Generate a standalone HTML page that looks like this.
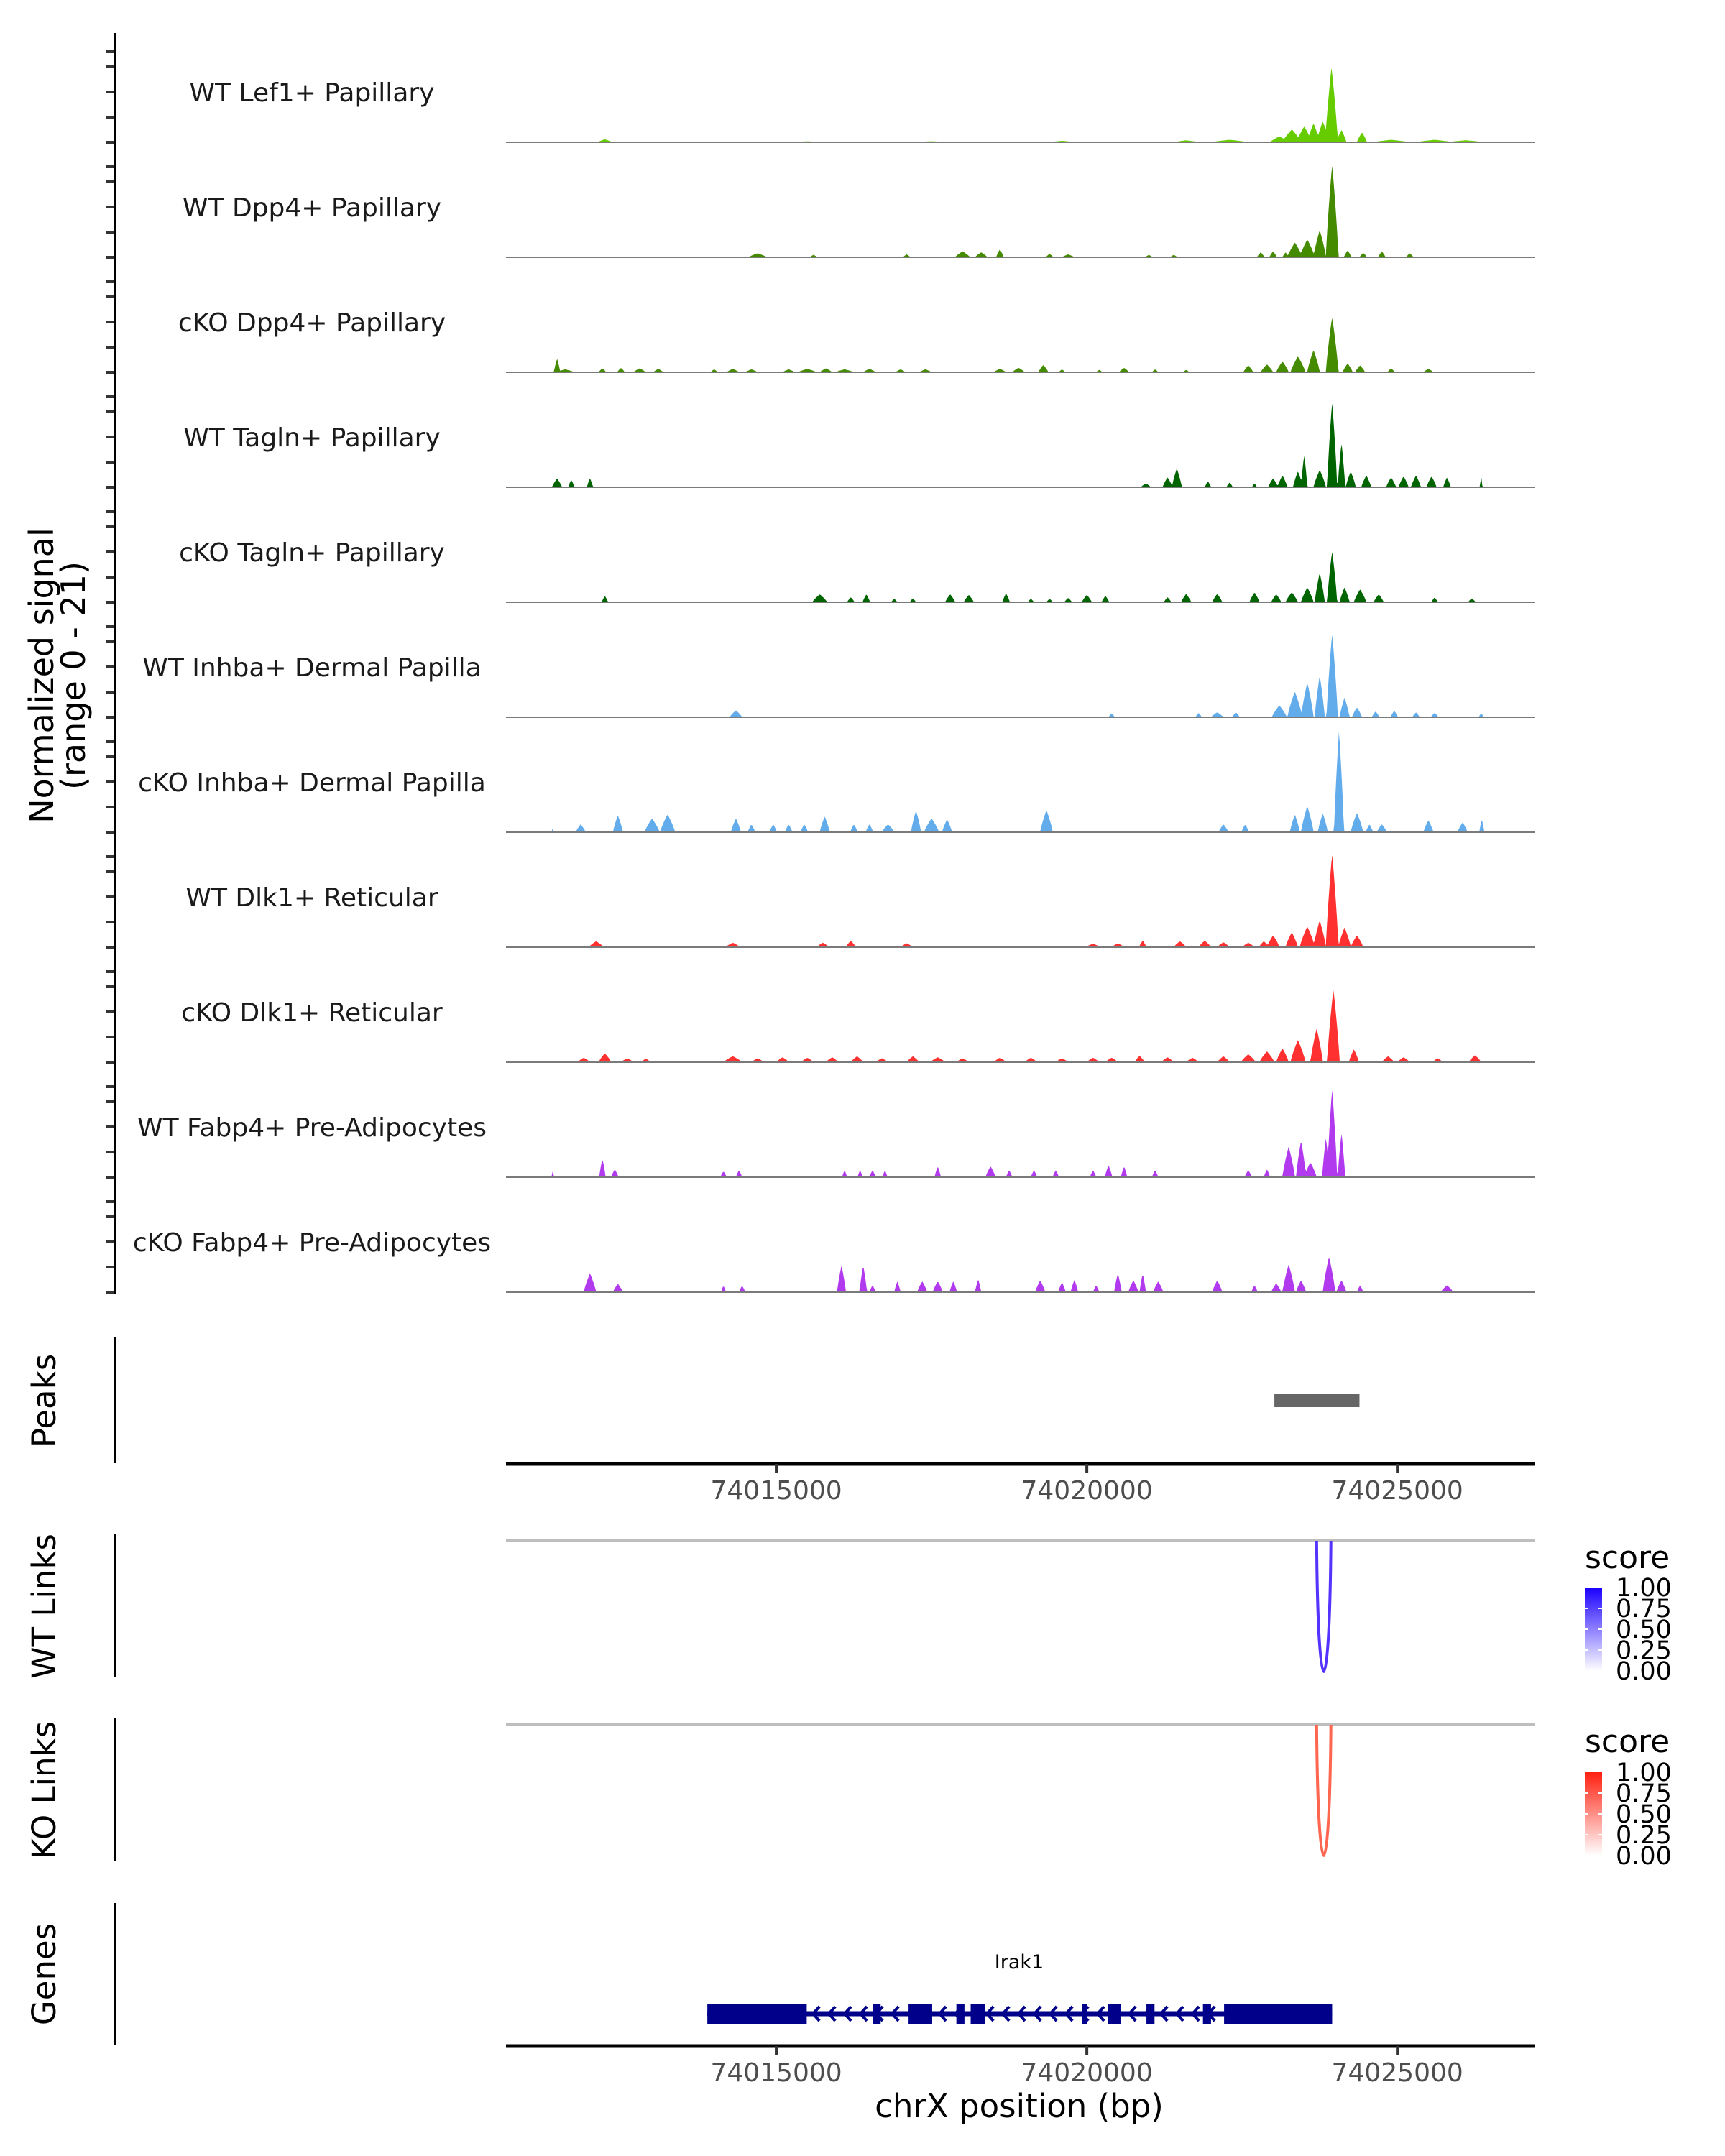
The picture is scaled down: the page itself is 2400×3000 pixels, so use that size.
<!DOCTYPE html>
<html><head><meta charset="utf-8">
<style>
html,body{margin:0;padding:0;background:#fff;}
svg{display:block;font-family:"DejaVu Sans","Liberation Sans",sans-serif;}
</style></head>
<body>
<svg id="chart" width="2400" height="3000" viewBox="0 0 2400 3000" xmlns="http://www.w3.org/2000/svg">
<rect x="0" y="0" width="2400" height="3000" fill="#fff"/>
<g id="tracks"></g>
<g id="axes"></g>
<text transform="translate(74,940) rotate(-90)" text-anchor="middle" font-size="46" fill="#000">Normalized signal</text>
<text transform="translate(118,940) rotate(-90)" text-anchor="middle" font-size="46" fill="#000">(range 0 - 21)</text>
<text transform="translate(77,1949) rotate(-90)" text-anchor="middle" font-size="45" fill="#000">Peaks</text>
<text transform="translate(77,2235) rotate(-90)" text-anchor="middle" font-size="45" fill="#000">WT Links</text>
<text transform="translate(77,2491) rotate(-90)" text-anchor="middle" font-size="45" fill="#000">KO Links</text>
<text transform="translate(77,2747) rotate(-90)" text-anchor="middle" font-size="45" fill="#000">Genes</text>
<text x="1418" y="2946" text-anchor="middle" font-size="45" fill="#000">chrX position (bp)</text>
<defs>
<linearGradient id="gBlue" x1="0" y1="1" x2="0" y2="0"><stop offset="0" stop-color="#ffffff"/><stop offset="1" stop-color="#1a00ff"/></linearGradient>
<linearGradient id="gRed" x1="0" y1="1" x2="0" y2="0"><stop offset="0" stop-color="#ffffff"/><stop offset="1" stop-color="#ff2010"/></linearGradient>
</defs>
<g>
<text x="2205" y="2182" font-size="44" fill="#000">score</text>
<rect x="2205" y="2209" width="24" height="116" fill="url(#gBlue)"/>
</g>
<g>
<text x="2205" y="2438" font-size="44" fill="#000">score</text>
<rect x="2205" y="2466" width="24" height="116" fill="url(#gRed)"/>
</g>
</svg>
<script>
// ---- data ----
const trackNames = ["WT Lef1+ Papillary","WT Dpp4+ Papillary","cKO Dpp4+ Papillary","WT Tagln+ Papillary","cKO Tagln+ Papillary","WT Inhba+ Dermal Papilla","cKO Inhba+ Dermal Papilla","WT Dlk1+ Reticular","cKO Dlk1+ Reticular","WT Fabp4+ Pre-Adipocytes","cKO Fabp4+ Pre-Adipocytes"];
const trackColors = ["#66cc00","#458b00","#458b00","#006400","#006400","#63acec","#63acec","#ff3030","#ff3030","#b23aee","#b23aee"];
// bumps per track: [position kb offset from 74,000,000, signal value, half-width kb]
const sigLef1 = [[12.24,0.6,0.12],[15.5,0.2,0.2],[17.5,0.2,0.3],[19.6,0.3,0.2],[21.6,0.4,0.2],[22.3,0.5,0.3],[23.1,1.2,0.15],[23.3,2.6,0.15],[23.5,3.2,0.12],[23.65,3.8,0.1],[23.8,4.2,0.1],[23.94,15.2,0.1],[24.1,2.5,0.08],[24.43,2.0,0.08],[24.9,0.5,0.3],[25.6,0.5,0.3],[26.1,0.4,0.3]];
const sigDpp4WT = [[14.7,0.8,0.15],[15.6,0.5,0.06],[17.1,0.6,0.06],[18.0,1.2,0.12],[18.3,1.0,0.1],[18.6,1.6,0.06],[19.4,0.7,0.06],[19.7,0.6,0.1],[21.0,0.5,0.06],[21.4,0.5,0.06],[22.8,1.0,0.06],[23.0,1.2,0.06],[23.2,1.0,0.05],[23.35,3.0,0.12],[23.55,3.6,0.12],[23.75,5.5,0.1],[23.95,18.8,0.1],[24.2,1.4,0.06],[24.45,0.9,0.06],[24.75,1.2,0.06],[25.2,0.8,0.06]];
const sigDpp4KO = [[11.47,2.8,0.05],[11.6,0.6,0.15],[12.2,0.8,0.06],[12.5,0.9,0.06],[12.8,0.8,0.1],[13.1,0.7,0.08],[14.0,0.6,0.06],[14.3,0.7,0.1],[14.6,0.6,0.1],[15.2,0.6,0.1],[15.5,0.7,0.15],[15.8,0.8,0.1],[16.1,0.6,0.15],[16.5,0.7,0.1],[17.0,0.6,0.08],[17.4,0.6,0.1],[18.6,0.7,0.1],[18.9,0.9,0.1],[19.3,1.5,0.08],[19.6,0.6,0.05],[20.2,0.5,0.05],[20.6,0.9,0.08],[21.1,0.6,0.05],[21.6,0.5,0.05],[22.6,1.4,0.08],[22.9,1.6,0.1],[23.15,2.2,0.1],[23.4,3.2,0.12],[23.65,4.5,0.1],[23.95,11.2,0.1],[24.2,1.8,0.08],[24.4,1.4,0.08],[24.9,0.8,0.06],[25.5,0.7,0.08]];
const sigTaglnWT = [[11.47,1.8,0.08],[11.7,1.5,0.05],[12.0,1.8,0.05],[20.95,0.8,0.08],[21.3,2.0,0.08],[21.45,3.8,0.08],[21.95,1.2,0.05],[22.3,1.0,0.05],[22.7,0.8,0.04],[23.0,1.8,0.08],[23.15,2.4,0.08],[23.4,3.2,0.08],[23.5,6.6,0.05],[23.75,3.5,0.1],[23.95,17.4,0.08],[24.1,9.0,0.06],[24.25,3.2,0.08],[24.5,2.4,0.08],[24.9,2.0,0.08],[25.1,2.2,0.08],[25.3,2.4,0.08],[25.55,2.2,0.08],[25.8,2.0,0.06],[26.35,2.2,0.02]];
const sigTaglnKO = [[12.24,1.3,0.05],[15.7,1.6,0.12],[16.2,1.0,0.06],[16.45,1.6,0.06],[16.9,0.7,0.05],[17.2,0.8,0.05],[17.8,1.6,0.08],[18.1,1.5,0.08],[18.7,1.8,0.06],[19.1,0.7,0.05],[19.4,0.7,0.05],[19.7,0.9,0.06],[20.0,1.5,0.08],[20.3,1.3,0.06],[21.3,1.0,0.06],[21.6,1.7,0.08],[22.1,1.7,0.08],[22.7,2.0,0.08],[23.05,1.6,0.08],[23.3,2.0,0.1],[23.55,3.0,0.1],[23.75,6.0,0.08],[23.95,10.4,0.08],[24.15,3.0,0.08],[24.4,2.6,0.1],[24.7,1.6,0.08],[25.6,1.0,0.05],[26.2,0.8,0.06]];
const sigInhbaWT = [[14.35,1.4,0.1],[20.4,0.8,0.05],[21.8,0.9,0.05],[22.1,1.0,0.1],[22.4,1.0,0.06],[23.1,2.4,0.12],[23.35,5.2,0.12],[23.55,7.0,0.1],[23.75,8.5,0.08],[23.95,17.0,0.09],[24.15,4.0,0.08],[24.35,2.0,0.08],[24.65,1.2,0.06],[24.95,1.3,0.06],[25.3,1.0,0.06],[25.6,0.9,0.06],[26.35,0.8,0.04]];
const sigInhbaKO = [[11.4,0.8,0.02],[11.85,1.6,0.08],[12.45,3.4,0.08],[13.0,2.8,0.12],[13.25,3.6,0.12],[14.35,2.8,0.08],[14.6,1.6,0.06],[14.95,1.6,0.06],[15.2,1.6,0.06],[15.45,1.6,0.06],[15.78,3.2,0.08],[16.25,1.6,0.06],[16.5,1.6,0.06],[16.8,1.6,0.1],[17.25,4.4,0.08],[17.5,2.8,0.12],[17.75,2.6,0.08],[19.35,4.5,0.1],[22.2,1.6,0.08],[22.55,1.6,0.06],[23.35,3.6,0.08],[23.55,5.3,0.1],[23.8,3.8,0.08],[24.06,20.6,0.08],[24.35,3.9,0.1],[24.55,1.6,0.06],[24.75,1.6,0.08],[25.5,2.4,0.08],[26.05,2.0,0.08],[26.36,2.6,0.04]];
const sigDlk1WT = [[12.1,1.2,0.12],[14.3,0.9,0.12],[15.75,0.9,0.1],[16.2,1.3,0.08],[17.1,0.8,0.1],[20.1,0.7,0.12],[20.5,0.8,0.1],[20.9,1.3,0.06],[21.5,1.2,0.1],[21.9,1.3,0.1],[22.2,1.0,0.1],[22.6,0.9,0.1],[22.85,1.2,0.08],[23.0,2.4,0.1],[23.3,3.0,0.1],[23.55,4.2,0.12],[23.75,5.4,0.1],[23.95,19.0,0.1],[24.15,4.0,0.1],[24.35,2.4,0.1]];
const sigDlk1KO = [[11.9,0.9,0.1],[12.24,1.8,0.1],[12.6,0.8,0.1],[12.9,0.7,0.08],[14.3,1.2,0.15],[14.7,0.8,0.1],[15.1,1.0,0.1],[15.5,0.9,0.1],[15.9,1.0,0.1],[16.3,1.2,0.1],[16.7,0.8,0.1],[17.2,1.2,0.1],[17.6,1.0,0.12],[18.0,0.8,0.1],[18.6,0.9,0.1],[19.1,0.9,0.1],[19.6,0.8,0.1],[20.1,0.9,0.1],[20.4,0.9,0.1],[20.85,1.3,0.08],[21.3,1.0,0.1],[21.7,0.9,0.1],[22.2,1.2,0.1],[22.6,1.6,0.12],[22.9,2.2,0.12],[23.15,2.8,0.1],[23.4,4.5,0.12],[23.7,6.8,0.1],[23.97,14.8,0.1],[24.3,2.6,0.08],[24.85,1.2,0.1],[25.1,1.0,0.1],[25.65,0.8,0.08],[26.25,1.4,0.1]];
const sigFabp4WT = [[11.4,1.2,0.02],[12.2,3.8,0.05],[12.4,1.6,0.06],[14.15,1.2,0.05],[14.4,1.4,0.05],[16.1,1.4,0.04],[16.35,1.4,0.04],[16.55,1.4,0.05],[16.75,1.4,0.04],[17.6,2.2,0.05],[18.45,2.2,0.08],[18.75,1.4,0.05],[19.15,1.4,0.05],[19.5,1.4,0.05],[20.1,1.4,0.05],[20.35,2.4,0.06],[20.6,2.2,0.05],[21.1,1.4,0.05],[22.6,1.4,0.06],[22.9,1.6,0.05],[23.25,6.2,0.1],[23.45,7.4,0.08],[23.6,3.0,0.1],[23.85,8.0,0.06],[23.95,18.0,0.08],[24.1,9.0,0.06]];
const sigFabp4KO = [[12.0,3.8,0.1],[12.45,1.7,0.08],[14.15,1.3,0.04],[14.45,1.3,0.05],[16.05,5.4,0.07],[16.4,5.4,0.06],[16.55,1.4,0.05],[16.95,2.2,0.05],[17.35,2.2,0.08],[17.6,2.2,0.08],[17.85,2.2,0.06],[18.25,2.6,0.05],[19.25,2.4,0.08],[19.6,2.0,0.06],[19.8,2.5,0.06],[20.15,1.4,0.05],[20.5,3.8,0.06],[20.75,2.4,0.08],[20.9,3.8,0.05],[21.15,2.2,0.08],[22.1,2.4,0.08],[22.7,1.4,0.05],[23.05,1.8,0.08],[23.25,5.6,0.1],[23.45,2.4,0.08],[23.9,7.2,0.1],[24.1,2.4,0.08],[24.4,1.4,0.05],[25.8,1.4,0.1]];
const signals = [sigLef1,sigDpp4WT,sigDpp4KO,sigTaglnWT,sigTaglnKO,sigInhbaWT,sigInhbaKO,sigDlk1WT,sigDlk1KO,sigFabp4WT,sigFabp4KO];
const xTicks = [74015000, 74020000, 74025000];
const peakRanges = [[74023020, 74024390]];
const wtLinks = [[74023700, 74023930, 1.0]];
const koLinks = [[74023700, 74023930, 0.85]];
const legendTicks = ["1.00","0.75","0.50","0.25","0.00"];
const geneName = "Irak1";
const geneStart = 74013890, geneEnd = 74023950;
const geneExons = [[13890,15490],[16550,16680],[17130,17510],[17900,18030],[18130,18360],[19920,20000],[20340,20550],[20960,21090],[21870,22000],[22210,23950]];
// ---- scales ----
const X0 = 704, X1 = 2136, D0 = 74010648, D1 = 74027220;
const xs = bp => X0 + (bp - D0) / (D1 - D0) * (X1 - X0);
const PX_PER_UNIT = 6.9;
const baseY = i => 198 + 160 * i;
const ys = (i, v) => baseY(i) - v * PX_PER_UNIT;
const NS = "http://www.w3.org/2000/svg";
function mk(tag, attrs, parent) { const e = document.createElementNS(NS, tag); for (const k in attrs) e.setAttribute(k, attrs[k]); parent.appendChild(e); return e; }
const tracksG = document.getElementById('tracks');
const axesG = document.getElementById('axes');
const svg = document.getElementById('chart');

signals.forEach((bumps, i) => {
  const step = 15;
  let d = "M" + X0 + "," + baseY(i);
  for (let bp = D0; bp <= D1; bp += step) {
    let v = 0;
    for (const b of bumps) {
      const c = 74000000 + b[0] * 1000, w = b[2] * 1000;
      const t = 1 - Math.abs(bp - c) / w;
      if (t > 0) v = Math.max(v, b[1] * Math.pow(t, 0.8));
    }
    d += "L" + xs(bp).toFixed(1) + "," + ys(i, v).toFixed(1);
  }
  d += "L" + X1 + "," + baseY(i) + "Z";
  const area = mk('path', {d: d, fill: trackColors[i]}, tracksG);
  
  
  const bl = mk('line', {x1: X0, x2: X1, y1: baseY(i), y2: baseY(i), stroke: '#7a7a7a', 'stroke-width': 2}, tracksG);
  
  
  const lab = mk('text', {x: 434, y: baseY(i) - 57, 'text-anchor': 'middle', 'font-size': 36, fill: '#1a1a1a'}, tracksG);
  lab.textContent = trackNames[i];
  
  
  [0, 35, 70, 105, 126].forEach(o => {
    const tk = mk('line', {x1: 148, x2: 160, y1: baseY(i) - o, y2: baseY(i) - o, stroke: '#333', 'stroke-width': 4}, axesG);
    
    
  });
});
// left axis lines
[[46, 1800], [1861, 2036], [2135, 2334], [2391, 2590], [2648, 2846]].forEach(r => {
  const l = mk('line', {x1: 160, x2: 160, y1: r[0], y2: r[1], stroke: '#000', 'stroke-width': 4}, axesG);
  
  
});
// peaks
peakRanges.forEach(p => {
  const r = mk('rect', {x: xs(p[0]), y: 1940, width: xs(p[1]) - xs(p[0]), height: 18, fill: '#666666'}, svg);
  
  
});
// x axes
[2037, 2847].forEach((ay, k) => {
  const a = mk('line', {x1: X0, x2: X1, y1: ay, y2: ay, stroke: '#000', 'stroke-width': 5}, axesG);
  
  
  xTicks.forEach(t => {
    const tk = mk('line', {x1: xs(t), x2: xs(t), y1: ay, y2: ay + 12, stroke: '#333', 'stroke-width': 4}, axesG);
    
    
    const tl = mk('text', {x: xs(t), y: ay + 49, 'text-anchor': 'middle', 'font-size': 36, fill: '#4d4d4d'}, axesG);
    tl.textContent = String(t);
    
    
  });
});
// links
function drawLinks(links, topY, depth, color, name) {
  const g = mk('line', {x1: X0, x2: X1, y1: topY, y2: topY, stroke: '#bebebe', 'stroke-width': 4}, svg);
  
  
  links.forEach(l => {
    const a = xs(l[0]), b = xs(l[1]);
    const p = mk('path', {d: `M${a},${topY} C${a + 2},${topY + depth * 1.333} ${b - 2},${topY + depth * 1.333} ${b},${topY}`, fill: 'none', stroke: color, 'stroke-width': 4}, svg);
    
    
  });
}
drawLinks(wtLinks, 2144, 182, '#5533ff', 'wt-link');
drawLinks(koLinks, 2400, 182, '#ff6650', 'ko-link');
// legend labels
[[2209, 'wt'], [2466, 'ko']].forEach(L => {
  legendTicks.forEach((t, j) => {
    const y = L[0] + j * 29;
    const tl = mk('text', {x: 2248, y: y + 12, 'font-size': 35, fill: '#000'}, svg);
    tl.textContent = t;
    
    
    if (j > 0 && j < 4) {
      const tk = mk('line', {x1: 2205, x2: 2210, y1: y, y2: y, stroke: '#fff', 'stroke-width': 2}, svg);
      
      
      const tk2 = mk('line', {x1: 2224, x2: 2229, y1: y, y2: y, stroke: '#fff', 'stroke-width': 2}, svg);
      
      
    }
  });
});
// gene
const gy = 2802;
const gl = mk('line', {x1: xs(geneStart), x2: xs(geneEnd), y1: gy, y2: gy, stroke: '#00008b', 'stroke-width': 7}, svg);


for (let px = xs(geneStart) + 150; px < xs(geneEnd) - 160; px += 22) {
  const c = mk('path', {d: `M${px + 6},${gy - 10} L${px - 3},${gy} L${px + 6},${gy + 10}`, fill: 'none', stroke: '#00008b', 'stroke-width': 4}, svg);
  
  
}
geneExons.forEach(e => {
  const a = xs(74000000 + e[0]), b = xs(74000000 + e[1]);
  const r = mk('rect', {x: a, y: gy - 14, width: b - a, height: 28, fill: '#00008b'}, svg);
  
  
});
const gn = mk('text', {x: 1418, y: 2739, 'text-anchor': 'middle', 'font-size': 27, fill: '#000'}, svg);
gn.textContent = geneName;


</script>
</body></html>
